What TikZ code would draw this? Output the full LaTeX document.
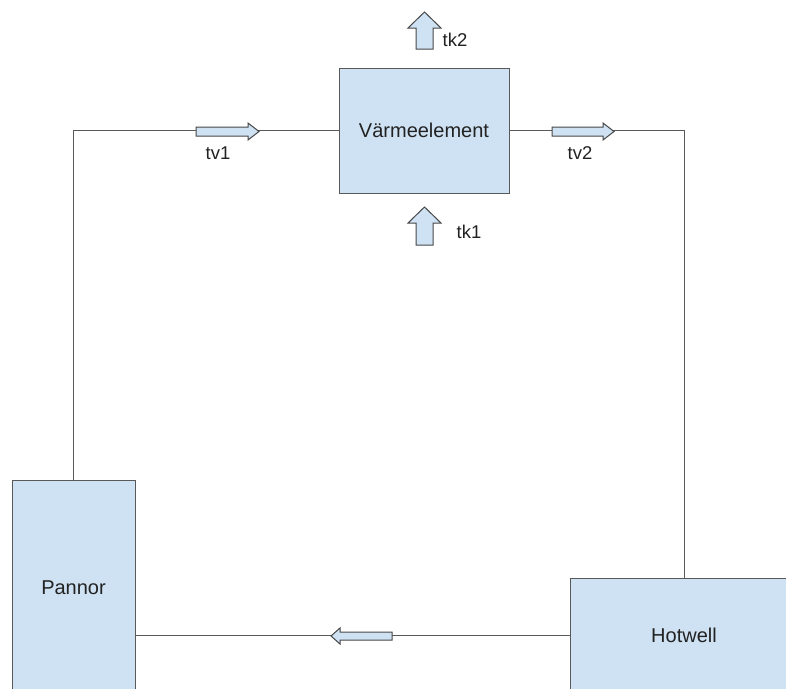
\documentclass[tikz,border=0pt]{standalone}
\usepackage{fontspec}
\setmainfont{Liberation Sans}
\definecolor{boxfill}{HTML}{CFE2F3}
\definecolor{edge}{HTML}{595959}
\definecolor{txt}{HTML}{222222}
\begin{document}
\begin{tikzpicture}[x=1pt,y=-1pt,
  box/.style={draw=edge,fill=boxfill,line width=1pt,inner sep=0pt,text=txt,font=\fontsize{20}{23}\selectfont},
  pipe/.style={draw=edge,line width=0.9pt},
  blockarrow/.style={draw=edge!80!black,fill=boxfill,line width=1pt,line join=miter},
  lbl/.style={text=txt,font=\fontsize{18.5}{21}\selectfont,inner sep=0pt}]
\useasboundingbox (0,0) rectangle (786,688);
\clip (0,0) rectangle (786,688);
\fill[white] (0,0) rectangle (786,688);
\node[box,minimum width=170pt,minimum height=125pt] (varme) at (424,130.5) {Värmeelement};
\node[box,minimum width=123pt,minimum height=216pt] (pannor) at (73.5,588) {Pannor};
\node[box,minimum width=228pt,minimum height=114pt] (hotwell) at (684,635) {Hotwell};
\draw[pipe] (varme.west) -| (pannor.north);
\draw[pipe] (varme.east) -| (hotwell.north);
\draw[pipe] (hotwell.west) -- (hotwell.west -| pannor.east);
% block arrows
\draw[blockarrow] (416,49) -- (416,28) -- (408,28) -- (424.5,12) -- (441,28) -- (433,28) -- (433,49) -- cycle;
\draw[blockarrow] (416,245) -- (416,223) -- (408,223) -- (424.5,207) -- (441,223) -- (433,223) -- (433,245) -- cycle;
\draw[blockarrow] (196,127) -- (248,127) -- (248,123) -- (259,131.5) -- (248,140) -- (248,136) -- (196,136) -- cycle;
\draw[blockarrow] (552,127) -- (603,127) -- (603,123) -- (614,131.5) -- (603,140) -- (603,136) -- (552,136) -- cycle;
\draw[blockarrow] (392,632) -- (340,632) -- (340,628) -- (331,636) -- (340,644) -- (340,640) -- (392,640) -- cycle;
% labels
\node[lbl] (tk2) at (455,40) {tk2};
\node[lbl] (tk1) at (469,232) {tk1};
\node[lbl] (tv1) at (218,153) {tv1};
\node[lbl] (tv2) at (580,153) {tv2};
\end{tikzpicture}
\end{document}
